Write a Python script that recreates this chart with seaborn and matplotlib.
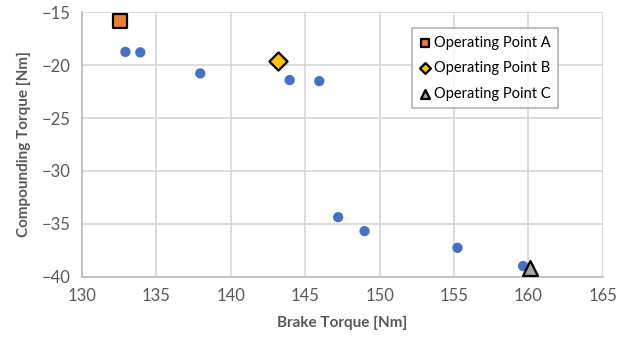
import matplotlib
matplotlib.use("Agg")
import matplotlib.pyplot as plt
import seaborn as sns
import pandas as pd

# Measured operating map
brake_torque = [132.93, 133.93, 137.96, 143.96, 145.95, 147.22, 148.99, 155.23, 159.64]
compounding_torque = [-18.73, -18.78, -20.77, -21.40, -21.50, -34.37, -35.69, -37.27, -39.00]

# Highlighted operating points
op_labels = ["Operating Point A", "Operating Point B", "Operating Point C"]
op_brake = [132.55, 143.15, 160.10]
op_comp = [-15.82, -19.57, -39.16]

x_ticks = [130, 135, 140, 145, 150, 155, 160, 165]
y_ticks = [-40, -35, -30, -25, -20, -15]

sns.set_theme(style="white")
plt.rcParams["font.family"] = ["Lato", "DejaVu Sans"]

grey_text = "#595959"
fig = plt.figure(figsize=(6.34, 3.45), dpi=100)
ax = fig.add_axes([0.129, 0.198, 0.822, 0.766])

df = pd.DataFrame({"brake": brake_torque, "comp": compounding_torque})
sns.scatterplot(data=df, x="brake", y="comp", ax=ax, color="#4472C4",
                s=55, edgecolor="none", zorder=3, legend=False)

op_df = pd.DataFrame({"brake": op_brake, "comp": op_comp, "point": op_labels})
styles = {
    "Operating Point A": dict(marker="s", color="#ED7D31", s=92),
    "Operating Point B": dict(marker="D", color="#FFC000", s=85),
    "Operating Point C": dict(marker="^", color="#A5A5A5", s=115),
}
for name in op_labels:
    st = styles[name]
    sub = op_df[op_df["point"] == name]
    sns.scatterplot(data=sub, x="brake", y="comp", ax=ax, marker=st["marker"],
                    color=st["color"], s=st["s"], edgecolor="black",
                    linewidth=1.6, zorder=4, label=name, clip_on=False)

ax.set_xlim(130, 165)
ax.set_ylim(-40, -15)
ax.set_xticks(x_ticks)
ax.set_yticks(y_ticks)
ax.grid(True, color="#D9D9D9", linewidth=1.3)
ax.set_axisbelow(True)
for side in ["top", "right"]:
    ax.spines[side].set_visible(False)
for side in ["left", "bottom"]:
    ax.spines[side].set_color("#BFBFBF")
    ax.spines[side].set_linewidth(1.3)

ax.tick_params(axis="both", labelsize=12, labelcolor=grey_text, length=0, pad=8)
ax.set_xlabel("Brake Torque [Nm]", fontsize=11, fontweight="bold",
              color=grey_text, labelpad=9)
ax.set_ylabel("Compounding Torque [Nm]", fontsize=11, fontweight="bold",
              color=grey_text, labelpad=8)

leg = ax.legend(loc="upper right", bbox_to_anchor=(0.913, 0.94), frameon=True,
                fancybox=False, edgecolor="#A0A0A0", fontsize=10.5,
                markerscale=0.6, handletextpad=0.2, handlelength=0.8,
                borderpad=0.5, borderaxespad=0.0, labelspacing=0.8)
leg.get_frame().set_linewidth(1.2)
for t in leg.get_texts():
    t.set_color("black")

fig.savefig("out.png", dpi=100)
